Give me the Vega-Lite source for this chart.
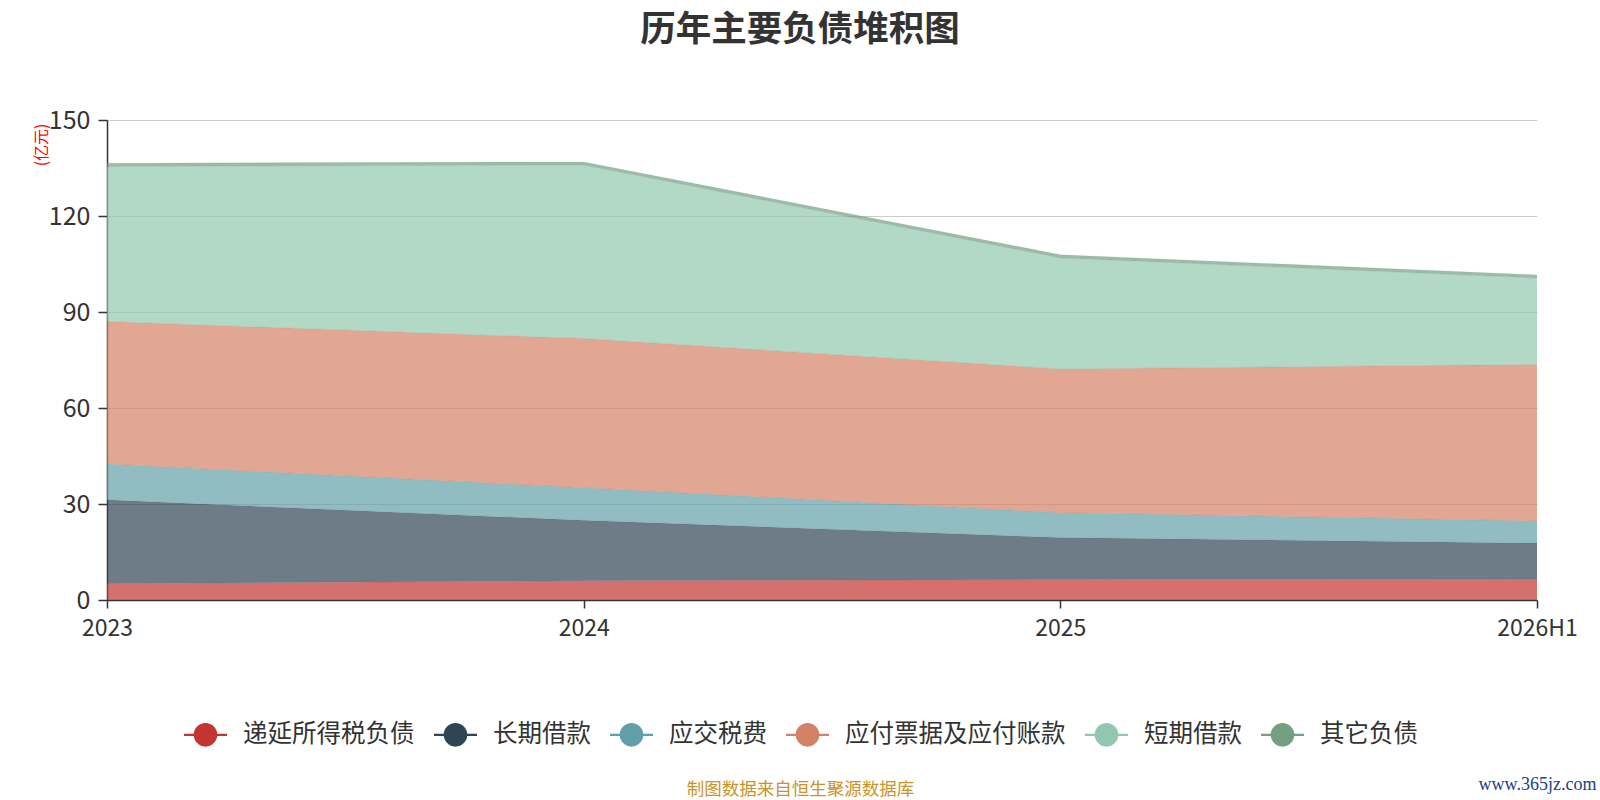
{
  "$schema": "https://vega.github.io/schema/vega-lite/v6.json",
  "width": 1430,
  "height": 480,
  "autosize": {"type": "none"},
  "padding": {"left": 107, "top": 120, "right": 63, "bottom": 200},
  "background": "white",
  "title": {
    "text": "历年主要负债堆积图",
    "font": "Noto Sans CJK SC",
    "fontSize": 35.5,
    "fontWeight": "bold",
    "color": "#333333",
    "anchor": "middle",
    "dx": -22,
    "offset": 60
  },
  "data": {
    "values": [
      {"year": "2023", "item": "递延所得税负债", "value": 5.1, "order": 1},
      {"year": "2023", "item": "长期借款", "value": 26.2, "order": 2},
      {"year": "2023", "item": "应交税费", "value": 11.2, "order": 3},
      {"year": "2023", "item": "应付票据及应付账款", "value": 44.5, "order": 4},
      {"year": "2023", "item": "短期借款", "value": 48.5, "order": 5},
      {"year": "2023", "item": "其它负债", "value": 1.0, "order": 6},
      {"year": "2024", "item": "递延所得税负债", "value": 6.0, "order": 1},
      {"year": "2024", "item": "长期借款", "value": 18.9, "order": 2},
      {"year": "2024", "item": "应交税费", "value": 10.2, "order": 3},
      {"year": "2024", "item": "应付票据及应付账款", "value": 46.6, "order": 4},
      {"year": "2024", "item": "短期借款", "value": 54.2, "order": 5},
      {"year": "2024", "item": "其它负债", "value": 1.0, "order": 6},
      {"year": "2025", "item": "递延所得税负债", "value": 6.4, "order": 1},
      {"year": "2025", "item": "长期借款", "value": 13.1, "order": 2},
      {"year": "2025", "item": "应交税费", "value": 7.8, "order": 3},
      {"year": "2025", "item": "应付票据及应付账款", "value": 44.9, "order": 4},
      {"year": "2025", "item": "短期借款", "value": 34.7, "order": 5},
      {"year": "2025", "item": "其它负债", "value": 1.0, "order": 6},
      {"year": "2026H1", "item": "递延所得税负债", "value": 6.6, "order": 1},
      {"year": "2026H1", "item": "长期借款", "value": 11.2, "order": 2},
      {"year": "2026H1", "item": "应交税费", "value": 6.9, "order": 3},
      {"year": "2026H1", "item": "应付票据及应付账款", "value": 48.9, "order": 4},
      {"year": "2026H1", "item": "短期借款", "value": 27.0, "order": 5},
      {"year": "2026H1", "item": "其它负债", "value": 1.0, "order": 6}
    ]
  },
  "encoding": {
    "x": {
      "field": "year",
      "type": "ordinal",
      "scale": {"type": "point", "padding": 0},
      "axis": {
        "labelAngle": 0,
        "labelFontSize": 23,
        "labelColor": "#333333",
        "labelPadding": 9,
        "domainColor": "#333333",
        "domainWidth": 1.5,
        "tickColor": "#333333",
        "tickSize": 8,
        "tickWidth": 1.5,
        "grid": false,
        "title": "制图数据来自恒生聚源数据库",
        "titleColor": "#c9922a",
        "titleFontSize": 17.5,
        "titleFontWeight": "normal",
        "titleX": 693,
        "titleY": 189,
        "titleAlign": "center",
        "titleBaseline": "middle"
      }
    }
  },
  "layer": [
    {
      "mark": {"type": "area", "opacity": 0.7},
      "encoding": {
        "y": {
          "field": "value",
          "type": "quantitative",
          "stack": "zero",
          "scale": {"domain": [0, 150], "nice": false},
          "axis": {
            "values": [0, 30, 60, 90, 120, 150],
            "labelFontSize": 25,
            "labelColor": "#333333",
            "labelPadding": 8,
            "domainColor": "#333333",
            "domainWidth": 1.5,
            "tickColor": "#333333",
            "tickSize": 9,
            "tickWidth": 1.5,
            "grid": true,
            "gridColor": "#cccccc",
            "title": "(亿元)",
            "titleColor": "red",
            "titleFontSize": 16,
            "titleFontWeight": "normal",
            "titleAngle": 270,
            "titleX": -66,
            "titleY": 3,
            "titleAlign": "right",
            "titleBaseline": "middle"
          }
        },
        "color": {
          "field": "item",
          "type": "nominal",
          "scale": {
            "domain": ["递延所得税负债", "长期借款", "应交税费", "应付票据及应付账款", "短期借款", "其它负债"],
            "range": ["#c23531", "#2f4554", "#61a0a8", "#d48265", "#91c7ae", "#749f83"]
          },
          "legend": {
            "orient": "none",
            "legendX": 77,
            "legendY": 593,
            "direction": "horizontal",
            "title": null,
            "symbolType": "M-1,-0.05L-0.5,-0.05L-0.5,0.05L-1,0.05Z M0.5,-0.05L1,-0.05L1,0.05L0.5,0.05Z M-0.55,0A0.55,0.55 0 1,1 0.55,0A0.55,0.55 0 1,1 -0.55,0Z",
            "symbolSize": 1849,
            "symbolOpacity": 1,
            "symbolStrokeWidth": 0,
            "labelFontSize": 24.5,
            "labelColor": "#333333",
            "labelLimit": 0,
            "labelOffset": 16,
            "columnPadding": 19
          }
        },
        "order": {"field": "order", "type": "quantitative"}
      }
    },
    {
      "mark": {"type": "line", "stroke": "#000000", "opacity": 0.06, "strokeWidth": 1},
      "encoding": {
        "y": {
          "field": "value",
          "type": "quantitative",
          "stack": "zero",
          "scale": {"domain": [0, 150], "nice": false},
          "axis": {
            "orient": "right",
            "labels": false,
            "ticks": false,
            "domain": false,
            "grid": false,
            "title": "www.365jz.com",
            "titleColor": "#1e3f7f",
            "titleFont": "Liberation Serif",
            "titleFontSize": 18,
            "titleFontWeight": "normal",
            "titleAngle": 0,
            "titleX": 0,
            "titleY": 664,
            "titleAlign": "center",
            "titleBaseline": "middle"
          }
        },
        "detail": {"field": "item", "type": "nominal"},
        "order": {"field": "order", "type": "quantitative"}
      }
    }
  ],
  "resolve": {"axis": {"y": "independent"}},
  "config": {
    "font": "Noto Sans CJK SC",
    "view": {"stroke": null}
  }
}
